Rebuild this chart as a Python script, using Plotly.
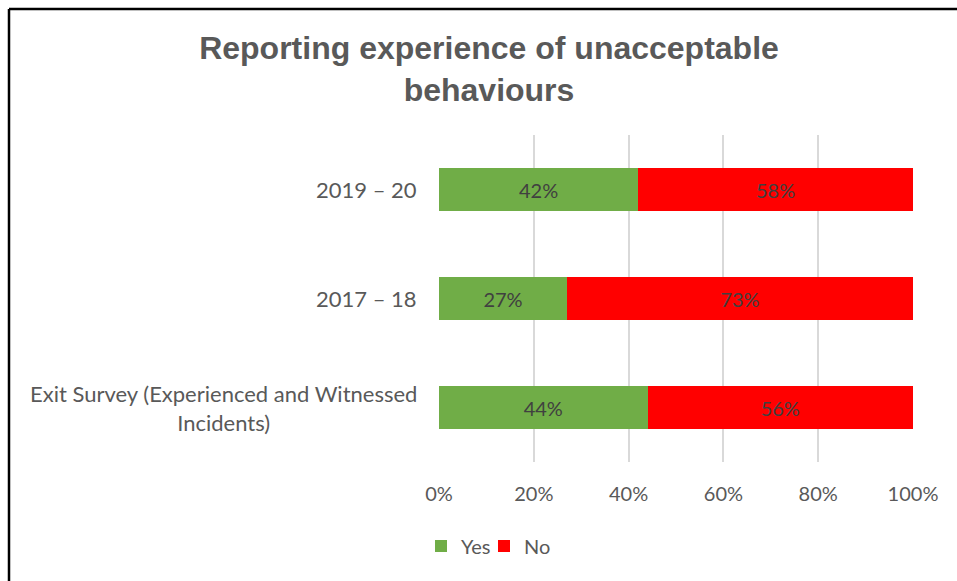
import plotly.graph_objects as go

categories = ["Exit Survey (Experienced and Witnessed<br>Incidents)", "2017 – 18", "2019 – 20"]
yes_values = [44, 27, 42]
no_values = [56, 73, 58]
x_ticks = [0, 20, 40, 60, 80, 100]
x_tick_labels = ["0%", "20%", "40%", "60%", "80%", "100%"]

W, H = 957, 581
ml, mr, mt, mb = 439, 44, 135, 119
pw = W - ml - mr
ph = H - mt - mb

LABEL_FONT = "Lato, 'Open Sans', sans-serif"

fig = go.Figure()
fig.add_trace(go.Bar(
    y=categories, x=yes_values, name="Yes", orientation="h",
    marker=dict(color="#70ad47", line=dict(width=0)),
    text=[f"{v}%" for v in yes_values], textposition="inside",
    insidetextanchor="middle",
    textfont=dict(family=LABEL_FONT, size=20, color="#404040"),
    hoverinfo="skip", legend="legend",
))
fig.add_trace(go.Bar(
    y=categories, x=no_values, name="No", orientation="h",
    marker=dict(color="#ff0000", line=dict(width=0)),
    text=[f"{v}%" for v in no_values], textposition="inside",
    insidetextanchor="middle",
    textfont=dict(family=LABEL_FONT, size=20, color="#404040"),
    hoverinfo="skip", legend="legend2",
))

# category labels (centered multi-line)
for c in categories:
    fig.add_annotation(
        x=0, xref="paper", xanchor="right", xshift=-20,
        y=c, yref="y", yanchor="middle",
        text=c, showarrow=False, align="center",
        font=dict(family=LABEL_FONT, size=22, color="#595959"),
    )

def px_x(p):
    return (p - ml) / pw

def px_y(p):
    return (H - mb - p) / ph

# chart border (left and top edges visible)
fig.add_shape(type="line", xref="paper", yref="paper",
              x0=px_x(9), y0=px_y(9), x1=px_x(965), y1=px_y(9),
              line=dict(color="black", width=2.5))
fig.add_shape(type="line", xref="paper", yref="paper",
              x0=px_x(9), y0=px_y(9), x1=px_x(9), y1=px_y(600),
              line=dict(color="black", width=2.5))

legend_common = dict(
    orientation="h", xanchor="left", yanchor="middle",
    font=dict(family=LABEL_FONT, size=20, color="#595959"),
    itemwidth=30, bgcolor="rgba(0,0,0,0)",
)

fig.update_layout(
    width=W, height=H,
    margin=dict(l=ml, r=mr, t=mt, b=mb),
    paper_bgcolor="white", plot_bgcolor="white",
    barmode="stack", bargap=0.6,
    title=dict(
        text="Reporting experience of unacceptable<br>behaviours",
        x=489 / W, xanchor="center", xref="container",
        y=1 - 59 / H, yanchor="top", yref="container",
        font=dict(family="'Liberation Sans', Arial, sans-serif", size=32,
                  color="#595959", weight="bold"),
    ),
    xaxis=dict(
        range=[0, 100], tickvals=x_ticks, ticktext=x_tick_labels,
        showgrid=True, gridcolor="#d9d9d9", gridwidth=1.5,
        zeroline=False, showline=False, ticks="", ticklabelstandoff=18,
        tickfont=dict(family=LABEL_FONT, size=20, color="#595959"),
        fixedrange=True,
    ),
    yaxis=dict(
        showticklabels=False, showgrid=False, zeroline=False, showline=False,
        categoryorder="array", categoryarray=categories, fixedrange=True,
    ),
    legend=dict(x=px_x(421), y=px_y(546), **legend_common),
    legend2=dict(x=px_x(484), y=px_y(546), **legend_common),
    showlegend=True,
)

fig.write_html(
    "out.html",
    config={"displayModeBar": False},
    post_script="document.body.style.margin='0';document.body.style.overflow='hidden';",
)
